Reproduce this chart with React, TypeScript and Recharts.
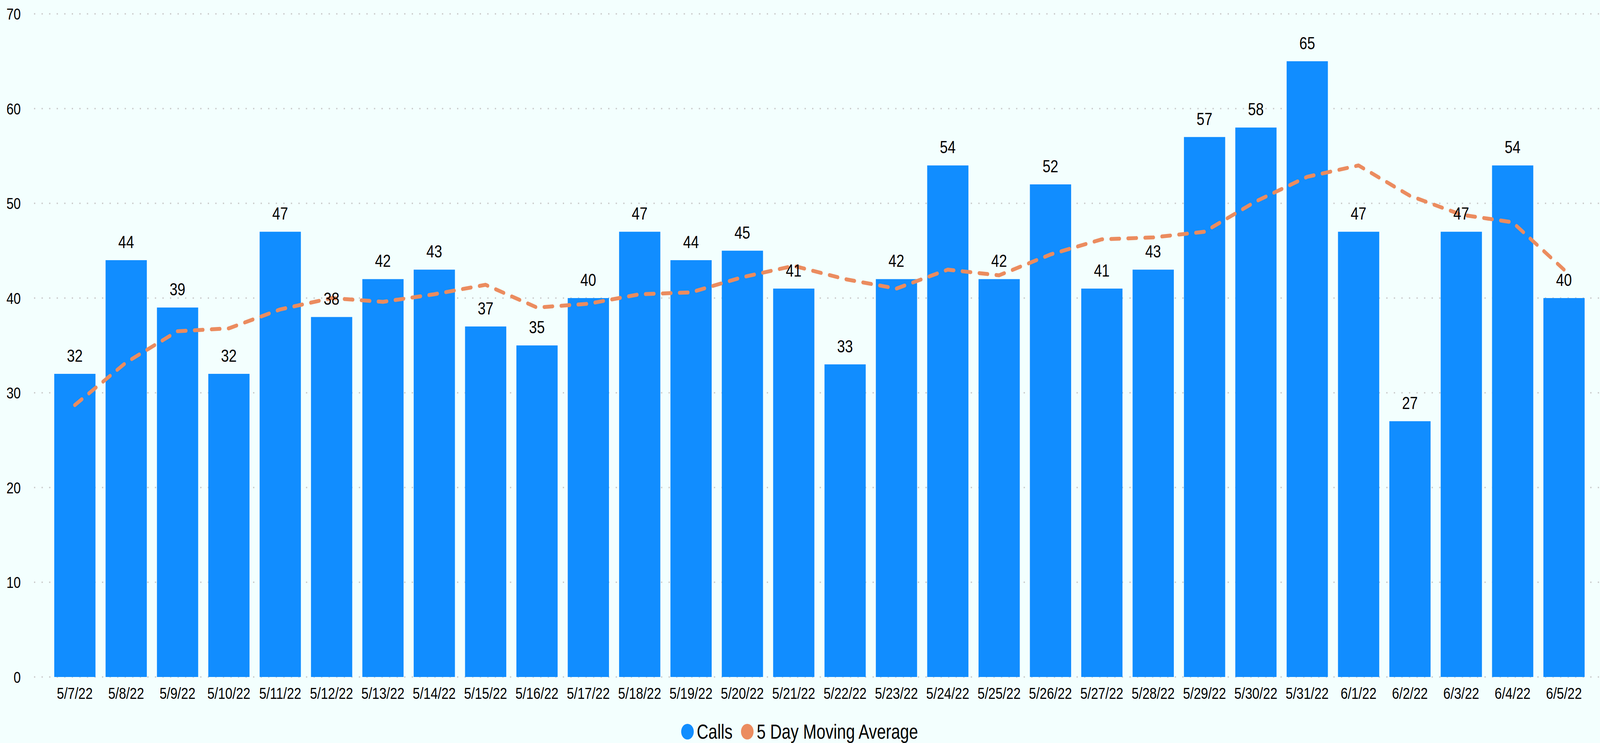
import React from 'react';
import { ComposedChart, Bar, Line, XAxis, YAxis, CartesianGrid, Legend, LabelList } from 'recharts';

const dates = ['5/7/22','5/8/22','5/9/22','5/10/22','5/11/22','5/12/22','5/13/22','5/14/22','5/15/22','5/16/22','5/17/22','5/18/22','5/19/22','5/20/22','5/21/22','5/22/22','5/23/22','5/24/22','5/25/22','5/26/22','5/27/22','5/28/22','5/29/22','5/30/22','5/31/22','6/1/22','6/2/22','6/3/22','6/4/22','6/5/22'];
const calls = [32,44,39,32,47,38,42,43,37,35,40,47,44,45,41,33,42,54,42,52,41,43,57,58,65,47,27,47,54,40];
const movingAvg = [28.7,33.2,36.5,36.8,38.8,40.0,39.6,40.4,41.4,39.0,39.4,40.4,40.6,42.2,43.4,42.0,41.0,43.0,42.4,44.6,46.2,46.4,47.0,50.2,52.8,54.0,50.8,48.8,48.0,43.0];
const yTicks = [0,10,20,30,40,50,60,70];
const seriesNames = ['Calls', '5 Day Moving Average'];

const BLUE = '#118DFF';
const ORANGE = '#EB8C5F';
const BG = '#F3FFFE';
const FONT = '"Liberation Sans", Arial, sans-serif';

// The browser viewport is only 4096px wide, so the 5083px-wide design is
// compressed horizontally to fit the visible page.
const DESIGN_W = 5083;
const DESIGN_H = 1902;
const VIEW_W = 4096;
const SX = VIEW_W / DESIGN_W;

const data = dates.map((d, i) => ({ date: d, calls: calls[i], ma: movingAvg[i], lbl: calls[i] }));

const LegendContent = () => (
  <div style={{ display: 'flex', justifyContent: 'center', alignItems: 'center', height: 58, fontFamily: FONT, fontSize: 51, color: '#000' }}>
    {[BLUE, ORANGE].map((c, i) => (
      <div key={i} style={{ display: 'flex', alignItems: 'center', marginRight: i === 0 ? 27 : 0 }}>
        <div style={{ width: 40, height: 40, borderRadius: 20, background: c, marginRight: 10 }} />
        <span>{seriesNames[i]}</span>
      </div>
    ))}
  </div>
);

export default function App() {
  return (
    <div style={{ position: 'relative', width: VIEW_W, height: DESIGN_H, background: BG, fontFamily: FONT, overflow: 'hidden' }}>
      <style>{'html,body{margin:0;padding:0;background:' + BG + ';}'}</style>
      <div style={{ width: DESIGN_W, height: DESIGN_H, transform: `scaleX(${SX})`, transformOrigin: '0 0' }}>
        <ComposedChart
          width={DESIGN_W}
          height={DESIGN_H}
          data={data}
          margin={{ top: 35.5, right: 3, left: 0, bottom: 0 }}
          barCategoryGap="10%"
        >
          <CartesianGrid vertical={false} stroke="#C8C8C8" strokeWidth={3.5} strokeDasharray="4 20" />
          <XAxis
            dataKey="date"
            interval={0}
            tickLine={false}
            axisLine={false}
            tickSize={0}
            tickMargin={27}
            height={111}
            padding={{ left: 48, right: 30 }}
            tick={{ fill: '#000', fontSize: 41, fontFamily: FONT }}
          />
          <YAxis
            domain={[0, 70]}
            ticks={yTicks}
            width={108}
            tickLine={false}
            axisLine={false}
            tickSize={0}
            tickMargin={42}
            tick={{ fill: '#000', fontSize: 41, fontFamily: FONT }}
          />
          <Legend verticalAlign="bottom" content={<LegendContent />} />
          <Bar dataKey="calls" name="Calls" fill={BLUE} isAnimationActive={false} />
          <Line
            dataKey="ma"
            name="5 Day Moving Average"
            type="linear"
            stroke={ORANGE}
            strokeWidth={10}
            strokeDasharray="27 27"
            strokeLinecap="round"
            strokeLinejoin="round"
            dot={false}
            activeDot={false}
            isAnimationActive={false}
          />
          <Line
            dataKey="lbl"
            stroke="none"
            dot={false}
            activeDot={false}
            legendType="none"
            isAnimationActive={false}
          >
            <LabelList dataKey="lbl" position="top" offset={31} fill="#000" fontSize={45} fontFamily={FONT} />
          </Line>
        </ComposedChart>
      </div>
    </div>
  );
}
